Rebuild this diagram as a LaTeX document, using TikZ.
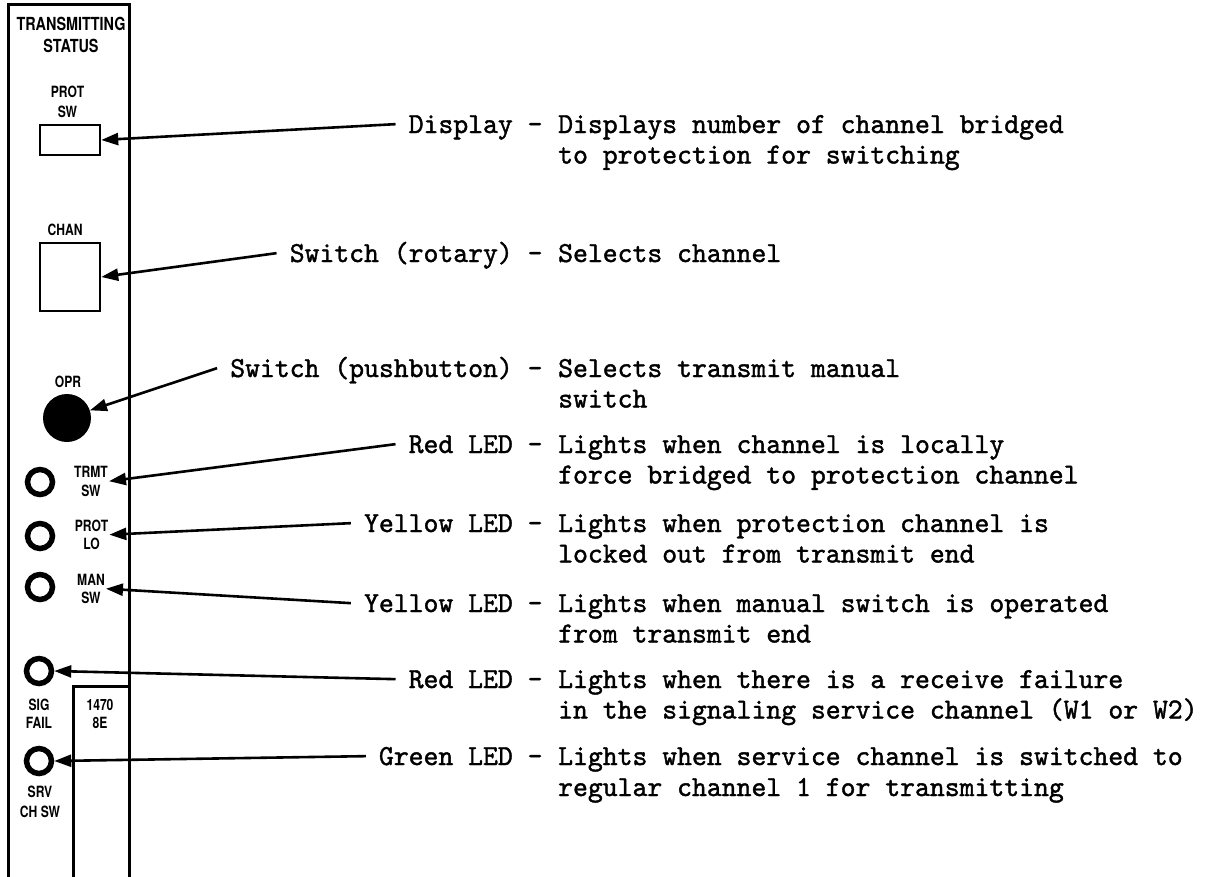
\documentclass[tikz,border=0pt]{standalone}
\usepackage{fontspec}
\setmonofont{lmmono10-regular.otf}[FakeBold=1.4,FakeStretch=0.975]
\newfontfamily\panelfont[FakeStretch=0.78]{TeX Gyre Heros}
\newfontfamily\titlefont[FakeStretch=0.8]{TeX Gyre Heros}
\usetikzlibrary{arrows.meta}
\newcommand\descfont{\ttfamily\fontsize{29.05}{30.5}\selectfont}
\newcommand\plfont{\panelfont\bfseries\fontsize{15.5}{18.5}\selectfont}
\newcommand\ptfont{\titlefont\bfseries\fontsize{18}{22}\selectfont}
\tikzset{
  desc/.style={font=\descfont, anchor=base west, inner sep=0pt},
  lbl/.style={font=\descfont, anchor=base east, inner ysep=0pt, inner xsep=13pt, text height=17.7pt, text depth=0pt},
  lead/.style={line width=2.6pt, -{Triangle[length=17pt,width=12pt]}},
  led/.style={circle, draw, line width=5.5pt, minimum size=25pt, inner sep=0pt},
  plab/.style={font=\plfont, align=center, inner sep=1pt},
  panel/.style={line width=3pt},
  ctrlbox/.style={draw, rectangle, line width=2.5pt, minimum width=60pt, inner sep=0pt},
}
\begin{document}
\begin{tikzpicture}[x=1pt,y=-1pt]
\useasboundingbox (0,0) rectangle (1232,876);
\fill[white] (0,0) rectangle (1232,876);
% panel
\draw[panel] (8,880) -- (8,4) -- (129,4) -- (129,880);
\draw[panel] (73,880) -- (73,686) -- (129,686);
% panel labels
\node[plab, font=\ptfont] (title) at (71,34.5) {TRANSMITTING\\STATUS};
\node[plab] (protsw) at (67.5,101.6) {PROT\\[1.5pt]SW};
\node[ctrlbox, minimum height=30pt] (disp) at (70,140) {};
\node[plab, anchor=base] (chanlab) at (65,235) {CHAN};
\node[ctrlbox, minimum height=68pt] (chan) at (70,277) {};
\node[plab, anchor=base] (oprlab) at (68,387) {OPR};
\node[circle, fill, minimum size=48pt, inner sep=0pt] (opr) at (67,418) {};
\node[led] (trmtled) at (40,482) {};
\node[plab] (trmt) at (91,481.2) {TRMT\\[0.5pt]SW};
\node[led] (protled) at (40,536) {};
\node[plab] (protlo) at (91.5,534.7) {PROT\\LO};
\node[led] (manled) at (40,587) {};
\node[plab] (mansw) at (91,588.7) {MAN\\SW};
\node[led] (sigled) at (39,671) {};
\node[plab] (sigfail) at (39,713.7) {SIG\\FAIL};
\node[plab] (code) at (100,713.7) {1470\\8E};
\node[led] (srvled) at (39,761) {};
\node[plab] (srvchsw) at (40,801.7) {SRV\\[1.5pt]CH SW};
% descriptions
\node[lbl] (k1) at (555.75,133) {Display –};
\node[desc] (d1) at (558,133) {Displays number of channel bridged};
\node[desc] (d1b) at (558,163.5) {to protection for switching};
\node[lbl] (k2) at (555.75,262) {Switch (rotary) –};
\node[desc] (d2) at (558,262) {Selects channel};
\node[lbl] (k3) at (555.75,377) {Switch (pushbutton) –};
\node[desc] (d3) at (558,377) {Selects transmit manual};
\node[desc] (d3b) at (558,407.5) {switch};
\node[lbl] (k4) at (555.75,453) {Red LED –};
\node[desc] (d4) at (558,453) {Lights when channel is locally};
\node[desc] (d4b) at (558,483.5) {force bridged to protection channel};
\node[lbl] (k5) at (555.75,532) {Yellow LED –};
\node[desc] (d5) at (558,532) {Lights when protection channel is};
\node[desc] (d5b) at (558,562.5) {locked out from transmit end};
\node[lbl] (k6) at (555.75,612) {Yellow LED –};
\node[desc] (d6) at (558,612) {Lights when manual switch is operated};
\node[desc] (d6b) at (558,642.5) {from transmit end};
\node[lbl] (k7) at (555.75,688) {Red LED –};
\node[desc] (d7) at (558,688) {Lights when there is a receive failure};
\node[desc] (d7b) at (558,718.5) {in the signaling service channel (W1 or W2)};
\node[lbl] (k8) at (555.75,765) {Green LED –};
\node[desc] (d8) at (558,765) {Lights when service channel is switched to};
\node[desc] (d8b) at (558,796) {regular channel 1 for transmitting};
% leaders
\draw[lead] (k1.west) -- (disp.east);
\draw[lead] (k2.west) -- (chan.east);
\draw[lead] (k3.west) -- (opr);
\draw[lead] (k4.west) -- (trmt.east);
\draw[lead] (k5.west) -- (protlo.east);
\draw[lead] (k6.west) -- (mansw.east);
\draw[lead] (k7.west) -- (sigled.east);
\draw[lead] (k8.west) -- (srvled.east);
\end{tikzpicture}
\end{document}
